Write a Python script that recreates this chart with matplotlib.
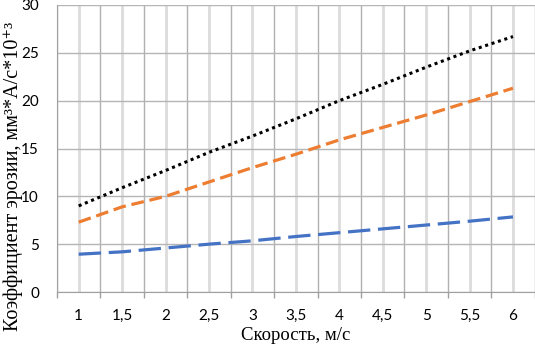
import matplotlib
matplotlib.use("Agg")
import matplotlib.pyplot as plt
import numpy as np

categories = ["1", "1,5", "2", "2,5", "3", "3,5", "4", "4,5", "5", "5,5", "6"]
black_dotted = [9.0, 10.9, 12.7, 14.6, 16.3, 18.1, 20.0, 21.7, 23.5, 25.2, 26.7]
orange_dashed = [7.3, 8.9, 10.0, 11.5, 13.0, 14.4, 15.9, 17.2, 18.5, 19.9, 21.3]
blue_dashed = [3.95, 4.2, 4.6, 5.0, 5.35, 5.8, 6.2, 6.6, 7.0, 7.4, 7.85]
yticks = [0, 5, 10, 15, 20, 25, 30]

sans = ["Lato", "DejaVu Sans"]
serif = ["Liberation Serif", "DejaVu Serif"]

fig = plt.figure(figsize=(5.35, 3.48), dpi=100)
ax = fig.add_axes([57/535, 1-292/348, (534.7-57)/535, (292-5)/348])

x = np.arange(len(categories))
ax.plot(x, blue_dashed, color="#4472C4", lw=2.3, dashes=(7, 2.4), dash_capstyle="butt", zorder=3)
ax.plot(x, orange_dashed, color="#ED7D31", lw=2.3, dashes=(4, 1.8), dash_capstyle="butt", zorder=3)
ax.plot(x, black_dotted, color="black", lw=2.2, dashes=(1, 1.2), dash_capstyle="butt", zorder=3)

ax.set_xlim(-0.5, len(categories) - 0.5)
ax.set_ylim(0, 30)

ax.set_xticks(x)
ax.set_xticklabels(categories, family=sans, fontsize=11)
ax.set_xticks(np.arange(-0.5, len(categories)), minor=True)
ax.tick_params(axis="x", which="major", length=0, pad=12)
ax.tick_params(axis="x", which="minor", length=4, width=1, color="#a0a0a0", direction="out")
ax.set_yticks(yticks)
ax.set_yticklabels([str(v) for v in yticks], family=sans, fontsize=11)
ax.tick_params(axis="y", length=0, pad=13)

ax.grid(axis="x", which="major", color="#dcdcdc", lw=2)
ax.grid(axis="x", which="minor", color="#b0b0b0", lw=1)
ax.grid(axis="y", which="major", color="#b5b5b5", lw=1)
ax.set_axisbelow(True)

for s in ["top", "right"]:
    ax.spines[s].set_visible(False)
ax.spines["left"].set_color("#a0a0a0")
ax.spines["bottom"].set_color("#a0a0a0")

fig.text(296/535, 1-335/348, "Скорость, м/с", family=serif, fontsize=13.5, ha="center", va="center")
fig.text(13/535, 1-176/348, "Коэффициент эрозии, мм³*А/с*10⁺³", family=serif, fontsize=14.5,
         ha="center", va="center", rotation=90)

fig.savefig("out.png", dpi=100)
